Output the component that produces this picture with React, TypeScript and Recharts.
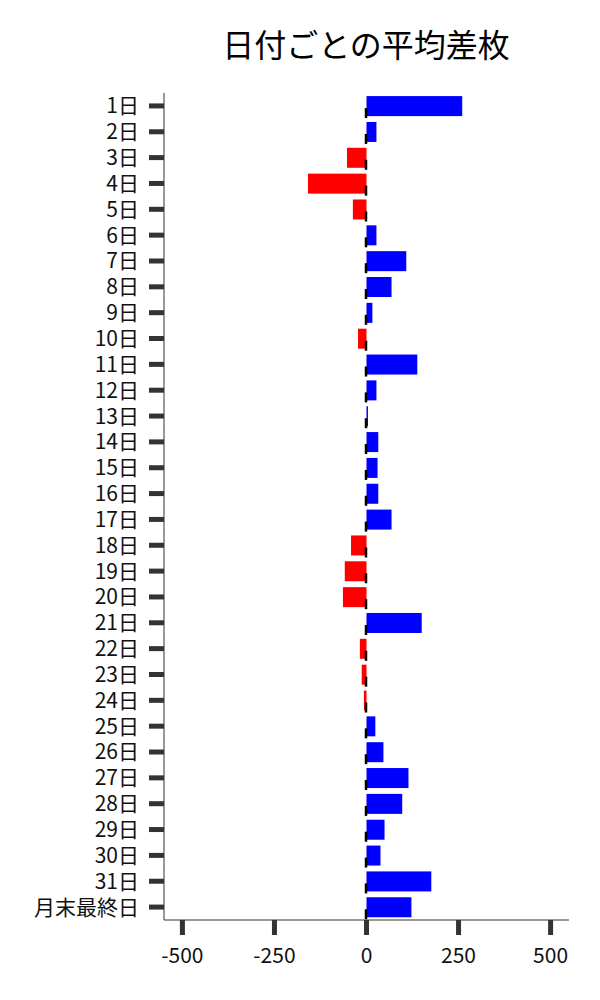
import React from 'react';
import { BarChart, Bar, XAxis, YAxis, Cell } from 'recharts';

const days = [
  '1日', '2日', '3日', '4日', '5日', '6日', '7日', '8日', '9日', '10日',
  '11日', '12日', '13日', '14日', '15日', '16日', '17日', '18日', '19日', '20日',
  '21日', '22日', '23日', '24日', '25日', '26日', '27日', '28日', '29日', '30日',
  '31日', '月末最終日',
];

const avgDiff = [
  260, 27, -53, -159, -37, 27, 108, 68, 16, -23,
  138, 27, 4, 32, 30, 32, 68, -42, -59, -64,
  150, -18, -13, -7, 24, 46, 114, 97, 49, 38,
  176, 122,
];

const xTicks = [-500, -250, 0, 250, 500];

const data = days.map((day, i) => ({ day, value: avgDiff[i] }));

const FONT = '"Noto Sans CJK JP", "Noto Sans", sans-serif';

// bar plus the short black mark sitting on the zero line
const BarShape = (props: any) => {
  const { x, y, width, height, fill, value } = props;
  const left = width < 0 ? x + width : x;
  const w = Math.abs(width);
  const zeroX = value < 0 ? (width > 0 ? x + width : x) : x;
  return (
    <g>
      <rect x={left} y={y} width={w} height={height} fill={fill} />
      <line
        x1={zeroX - 0.5}
        x2={zeroX - 0.5}
        y1={y + height * 0.6}
        y2={y + height + 2}
        stroke="#000"
        strokeWidth={2.5}
      />
    </g>
  );
};

const App = () => {
  return (
    <div style={{ position: 'absolute', left: 0, top: 0, width: 600, height: 1000, background: '#fff' }}>
      <div
        style={{
          position: 'absolute',
          left: 166,
          width: 400,
          top: 22,
          textAlign: 'center',
          fontFamily: FONT,
          fontSize: 32,
          color: '#000',
          lineHeight: '42px',
        }}
      >
        日付ごとの平均差枚
      </div>
      <BarChart
        width={600}
        height={1000}
        data={data}
        layout="vertical"
        margin={{ top: 93, right: 31, bottom: 30, left: 0 }}
        barCategoryGap="12%"
      >
        <XAxis
          type="number"
          domain={[-550, 550]}
          ticks={xTicks}
          allowDataOverflow
          height={50}
          tickSize={15}
          tickMargin={13}
          axisLine={{ stroke: '#333', strokeWidth: 1 }}
          tickLine={{ stroke: '#333', strokeWidth: 5 }}
          tick={{ fill: '#111', fontSize: 21, fontFamily: FONT }}
        />
        <YAxis
          type="category"
          dataKey="day"
          width={164}
          interval={0}
          tickSize={15}
          tickMargin={10}
          axisLine={{ stroke: '#333', strokeWidth: 1 }}
          tickLine={{ stroke: '#333', strokeWidth: 5 }}
          tick={{ fill: '#111', fontSize: 21, fontFamily: FONT }}
        />
        <Bar dataKey="value" isAnimationActive={false} shape={BarShape}>
          {data.map((d) => (
            <Cell key={d.day} fill={d.value < 0 ? '#ff0000' : '#0000ff'} />
          ))}
        </Bar>
      </BarChart>
    </div>
  );
};

export default App;
